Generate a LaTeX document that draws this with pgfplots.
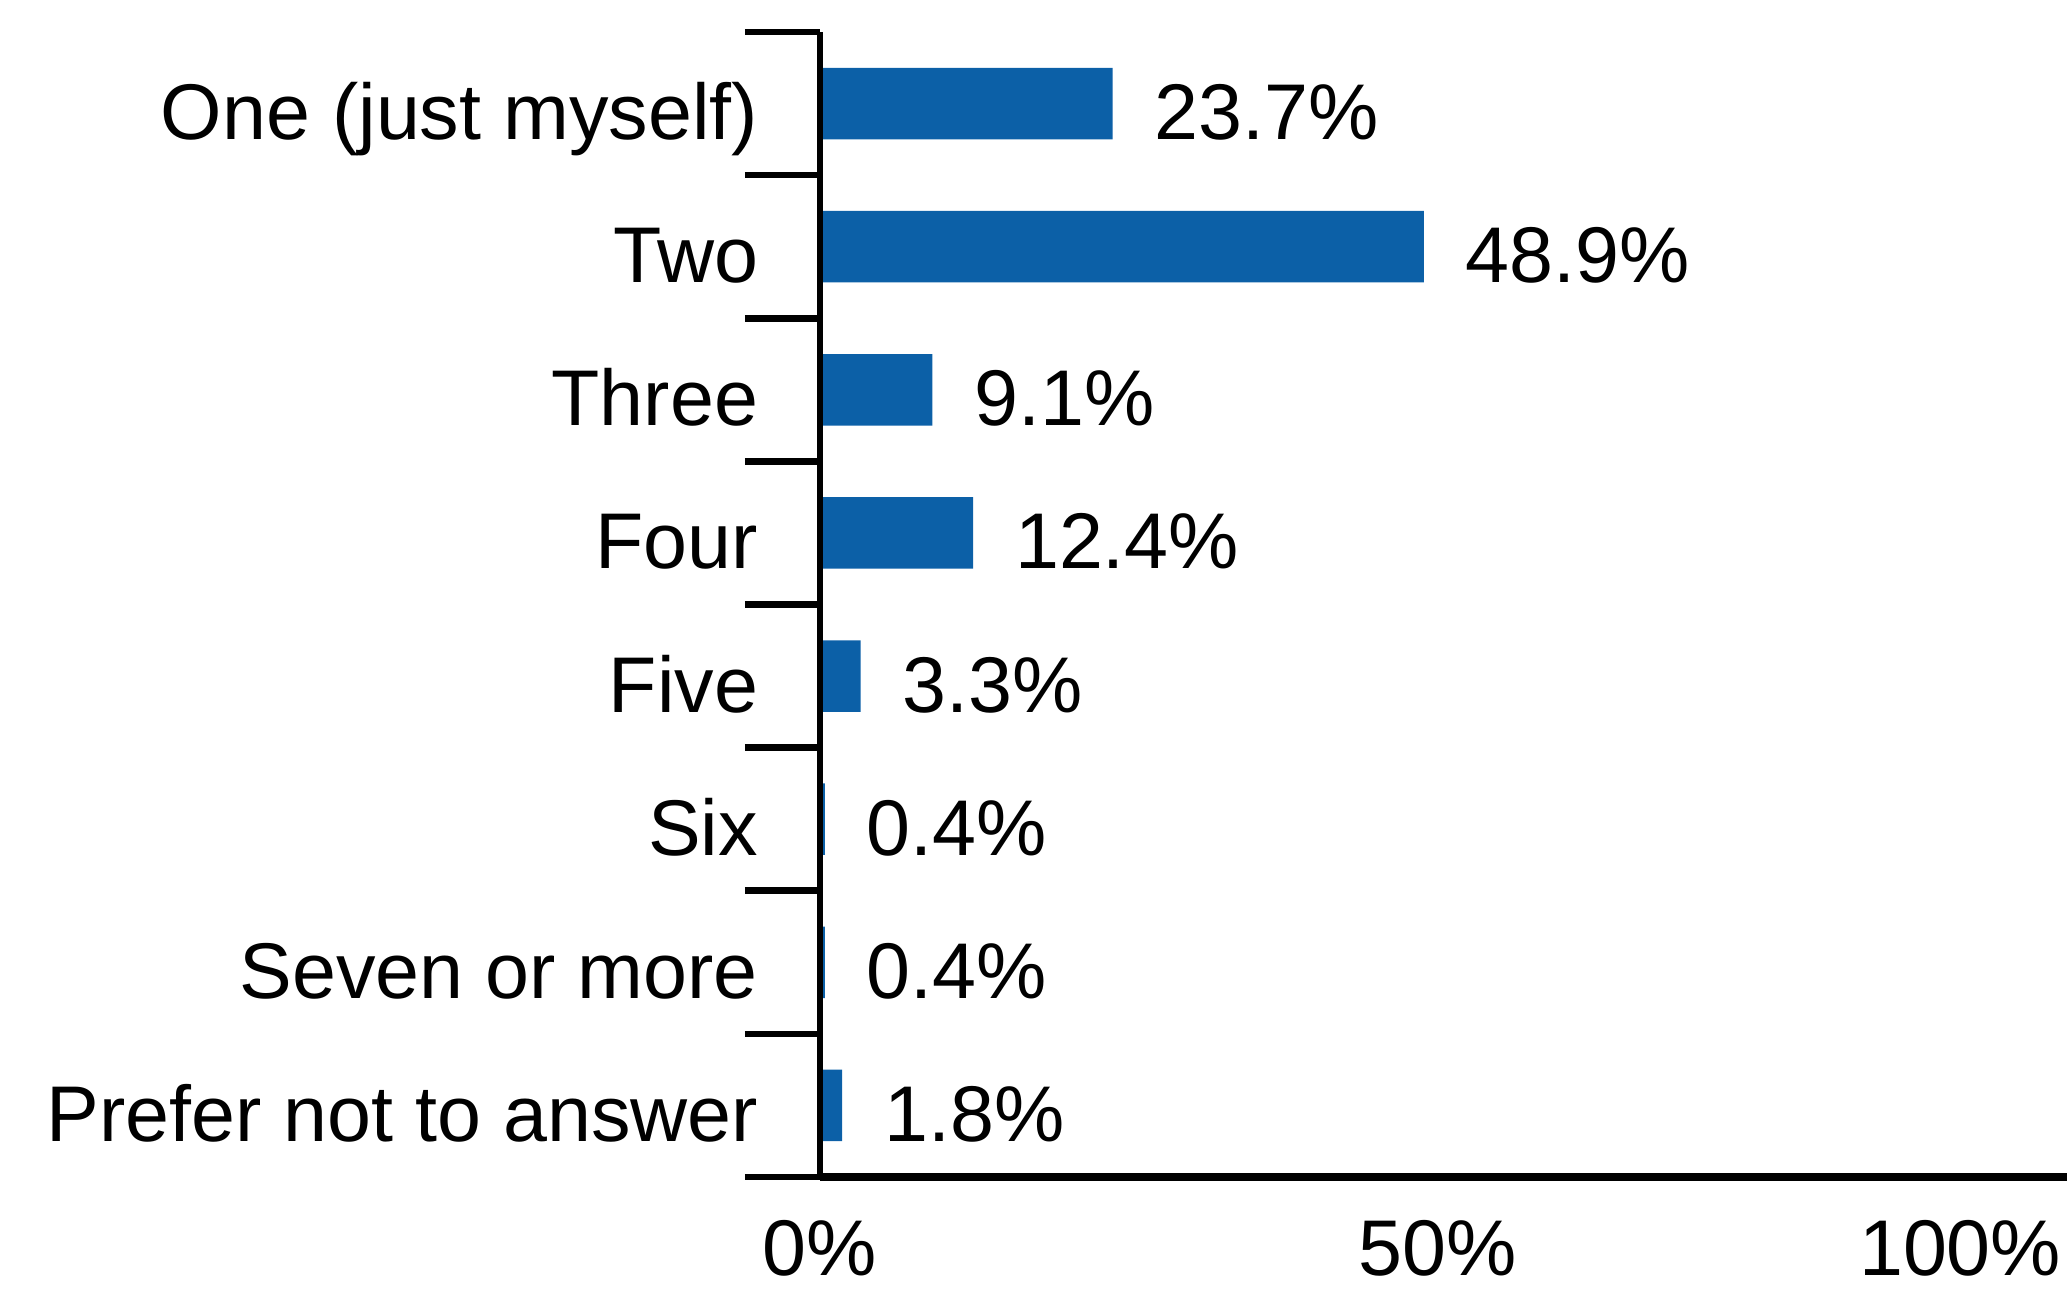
\documentclass[border=0pt]{standalone}
\usepackage{fontspec}
\setmainfont{Liberation Sans}
\usepackage{pgfplots}
\pgfplotsset{compat=1.18}
\definecolor{barblue}{RGB}{12,96,167}
\newcommand{\lblfont}{\fontsize{15.8}{19}\selectfont}
\begin{document}
\begin{tikzpicture}
\begin{axis}[
  scale only axis,
  width=249.4pt, height=229pt,
  xbar, bar width=0.5, bar shift=0pt,
  xmin=0, xmax=101,
  ymin=-0.5, ymax=7.5,
  y dir=reverse,
  axis on top,
  separate axis lines,
  axis x line*=bottom,
  axis y line*=left,
  x axis line style={-, line width=1.6pt, black},
  y axis line style={-, line width=1.3pt, black},
  tick align=outside,
  major tick length=0pt,
  minor tick length=15pt,
  minor tick style={line width=1.3pt, black},
  xtick={0,50}, xticklabels={0\%,50\%},
  extra x ticks={100}, extra x tick labels={100\%},
  extra x tick style={xticklabel style={anchor=base east, xshift=1.5pt}},
  xticklabel style={font=\lblfont, anchor=base, inner sep=0pt, yshift=-19.8pt},
  ytick={0,...,7},
  yticklabels={One (just myself),Two,Three,Four,Five,Six,Seven or more,Prefer not to answer},
  minor ytick={-0.5,0.5,...,7.5},
  yticklabel style={font=\lblfont, anchor=base east, inner sep=0pt, xshift=-12.2pt, yshift=-7.2pt},
  point meta=explicit symbolic,
  nodes near coords,
  every node near coord/.append style={font=\lblfont, anchor=base west, inner sep=0pt, xshift=8.2pt, yshift=-7.2pt, black},
]
\addplot[fill=barblue, draw=none] coordinates {
  (23.7,0) [23.7\%]
  (48.9,1) [48.9\%]
  (9.1,2) [9.1\%]
  (12.4,3) [12.4\%]
  (3.3,4) [3.3\%]
  (0.4,5) [0.4\%]
  (0.4,6) [0.4\%]
  (1.8,7) [1.8\%]
};
\coordinate (bl) at (axis cs:0,7.5);
\coordinate (tr) at (axis cs:101,-0.5);
\end{axis}
\pgfresetboundingbox
\path[use as bounding box] ([xshift=-164pt,yshift=-22.4pt]bl) rectangle ([yshift=6.4pt]tr);
\end{tikzpicture}
\end{document}
